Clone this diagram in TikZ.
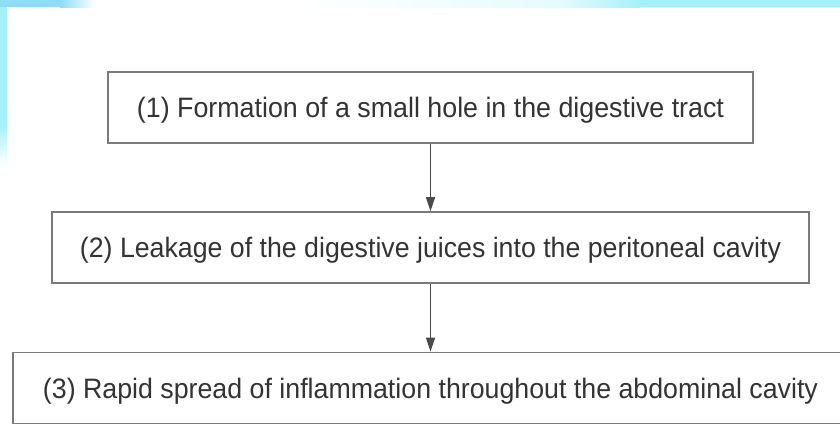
\documentclass[tikz,border=0pt]{standalone}
\usepackage{fontspec}
\setmainfont{Liberation Sans}
\usetikzlibrary{arrows.meta}
\definecolor{txt}{HTML}{333333}
\definecolor{boxline}{HTML}{7A7A7A}
\definecolor{arrowc}{HTML}{4A4A4A}
\definecolor{cyanA}{HTML}{8EDCF8}
\definecolor{cyanB}{HTML}{A6F0FA}
\definecolor{cyanC}{HTML}{E6FBFD}
\newcommand{\lbl}[2]{\raisebox{-3pt}[\height][\depth]{\resizebox{#1}{1.08\height}{#2}}}
\tikzset{
  stepbox/.style={draw=boxline, line width=1.6pt, fill=white, minimum height=71pt,
    inner sep=0pt, text=txt, font=\fontsize{26pt}{31pt}\selectfont},
  flowarrow/.style={draw=arrowc, line width=1.3pt, -{Triangle[width=9pt,length=14pt]}}
}
\begin{document}
\begin{tikzpicture}[x=1pt,y=-1pt]
\useasboundingbox (0,0) rectangle (840,423);
\clip (0,0) rectangle (840,423);
\fill[white] (0,0) rectangle (840,423);
% top band
\fill[cyanA] (0,0) rectangle (60,7);
\shade[left color=cyanA, right color=white] (60,0) rectangle (95,7);
\fill[white] (95,0) rectangle (300,7);
\shade[left color=white, right color=cyanC] (300,0) rectangle (560,7);
\shade[left color=cyanC, right color=cyanB] (560,0) rectangle (640,7);
\fill[cyanB] (640,0) rectangle (840,7);
% left band
\fill[cyanB] (0,7) rectangle (7,125);
\shade[top color=cyanB, bottom color=white] (0,125) rectangle (7,165);
% boxes
\node[stepbox, minimum width=645pt] (s1) at (430.5,107.5)
  {\lbl{587pt}{(1) Formation of a small hole in the digestive tract}\hspace{7pt}};
\node[stepbox, minimum width=757pt] (s2) at (430.5,247.5)
  {\lbl{701pt}{(2) Leakage of the digestive juices into the peritoneal cavity}\hspace{9pt}};
\node[stepbox, minimum width=835pt] (s3) at (430.5,388)
  {\lbl{775pt}{(3) Rapid spread of inflammation throughout the abdominal cavity}};
% arrows
\draw[flowarrow] (s1.south) -- (s2.north);
\draw[flowarrow] (s2.south) -- (s3.north);
\end{tikzpicture}
\end{document}
